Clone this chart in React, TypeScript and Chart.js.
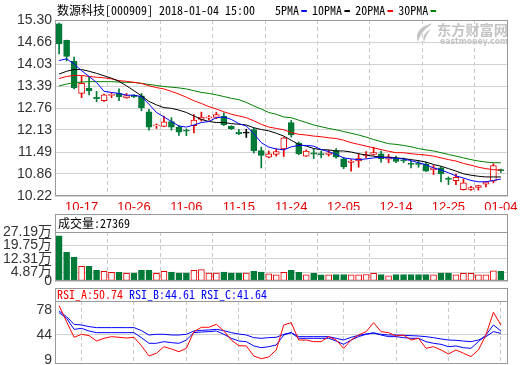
import React, { useEffect, useRef } from 'react';
import { Chart, registerables } from 'chart.js';

Chart.register(...registerables);

// ---------- data ----------
const dates = [
  '10-12','10-13','10-16','10-17','10-18','10-19','10-20','10-23','10-24','10-25',
  '10-26','10-27','10-30','10-31','11-01','11-02','11-03','11-06','11-07','11-08',
  '11-09','11-10','11-13','11-14','11-15','11-16','11-17','11-20','11-21','11-22',
  '11-23','11-24','11-27','11-28','11-29','11-30','12-01','12-04','12-05','12-06',
  '12-07','12-08','12-11','12-12','12-13','12-14','12-15','12-18','12-19','12-20',
  '12-21','12-22','12-25','12-26','12-27','12-28','12-29','01-02','01-03','01-04',
];
const xTickLabels = ['10-17','10-26','11-06','11-15','11-24','12-05','12-14','12-25','01-04'];

const open = [
  15.19,14.71,14.11,13.18,13.33,13.05,12.97,13.12,13.18,13.05,
  13.11,13.11,12.65,12.24,12.23,12.37,12.20,12.11,12.25,12.43,
  12.47,12.49,12.52,12.23,12.04,12.03,12.14,11.53,11.34,11.42,
  11.58,12.34,11.75,11.37,11.45,11.43,11.42,11.53,11.29,11.19,
  11.23,11.38,11.42,11.44,11.28,11.32,11.25,11.15,11.15,11.15,
  10.98,11.03,10.72,10.66,10.40,10.41,10.47,10.56,10.65,10.97,
];
const high = [
  15.21,14.72,14.23,13.67,13.67,13.24,13.16,13.21,13.31,13.18,
  13.14,13.18,12.72,12.30,12.53,12.48,12.26,12.16,12.57,12.64,
  12.54,12.64,12.62,12.25,12.14,12.15,12.19,11.63,11.52,11.58,
  11.91,12.40,11.78,11.55,11.58,11.52,11.54,11.59,11.34,11.27,
  11.44,11.50,11.63,11.52,11.42,11.37,11.32,11.22,11.25,11.20,
  11.10,11.07,10.77,10.85,10.71,10.50,10.53,10.64,11.15,11.00,
];
const low = [
  14.32,14.12,13.31,13.06,13.14,12.94,12.95,13.06,12.97,13.04,
  13.06,12.68,12.12,12.17,12.22,12.12,11.97,11.96,12.04,12.38,
  12.41,12.45,12.25,12.14,11.99,11.91,11.46,11.03,11.32,11.37,
  11.36,11.92,11.41,11.36,11.30,11.32,11.37,11.31,11.01,10.94,
  11.05,11.32,11.40,11.20,11.18,11.18,11.18,11.03,11.05,10.93,
  10.84,10.63,10.55,10.55,10.39,10.38,10.39,10.48,10.60,10.90,
];
const close = [
  14.61,14.25,13.34,13.47,13.26,13.03,13.14,13.14,13.09,13.12,
  13.09,12.77,12.21,12.26,12.36,12.21,12.06,12.09,12.41,12.50,
  12.49,12.57,12.28,12.16,12.02,12.03,11.53,11.39,11.44,11.50,
  11.90,11.98,11.44,11.52,11.43,11.41,11.46,11.34,11.06,11.21,
  11.30,11.40,11.47,11.30,11.35,11.22,11.23,11.13,11.13,10.94,
  11.03,10.86,10.70,10.76,10.60,10.46,10.52,10.63,11.10,10.95,
];

const ma5 = [
  14.13,14.18,14.03,13.84,13.67,13.50,13.24,13.21,13.18,13.13,
  13.13,13.09,12.87,12.63,12.50,12.37,12.24,12.21,12.27,12.34,
  12.37,12.48,12.50,12.43,12.31,12.24,12.02,11.76,11.63,11.58,
  11.55,11.64,11.68,11.68,11.66,11.56,11.50,11.42,11.32,11.29,
  11.27,11.29,11.32,11.34,11.32,11.31,11.29,11.24,11.18,11.12,
  11.03,10.97,10.89,10.80,10.74,10.67,10.63,10.63,10.67,10.71,
];
const ma10 = [
  13.74,13.82,13.87,13.87,13.82,13.76,13.69,13.62,13.53,13.40,
  13.26,13.11,12.95,12.85,12.77,12.75,12.70,12.63,12.53,12.43,
  12.37,12.34,12.34,12.31,12.29,12.27,12.19,12.14,12.10,12.03,
  11.95,11.83,11.71,11.66,11.59,11.56,11.55,11.52,11.52,11.49,
  11.44,11.40,11.37,11.34,11.34,11.32,11.30,11.27,11.24,11.20,
  11.13,11.08,11.01,10.94,10.86,10.82,10.79,10.77,10.77,10.77,
];
const ma20 = [
  13.61,13.67,13.70,13.70,13.67,13.65,13.63,13.60,13.55,13.53,
  13.50,13.47,13.40,13.35,13.31,13.24,13.16,13.07,12.97,12.89,
  12.80,12.73,12.65,12.58,12.53,12.48,12.39,12.29,12.21,12.17,
  12.13,12.05,12.00,11.98,11.95,11.93,11.90,11.88,11.83,11.76,
  11.71,11.66,11.61,11.56,11.51,11.47,11.47,11.44,11.42,11.40,
  11.37,11.32,11.27,11.23,11.16,11.11,11.05,11.01,10.98,10.97,
];
const ma30 = [
  13.40,13.45,13.49,13.51,13.52,13.52,13.52,13.52,13.51,13.50,
  13.50,13.47,13.44,13.41,13.38,13.36,13.34,13.31,13.26,13.21,
  13.18,13.14,13.09,13.04,13.00,12.92,12.82,12.73,12.63,12.58,
  12.50,12.48,12.41,12.34,12.27,12.22,12.17,12.13,12.08,12.03,
  11.98,11.92,11.85,11.79,11.73,11.71,11.68,11.64,11.59,11.55,
  11.52,11.47,11.42,11.37,11.32,11.27,11.23,11.20,11.18,11.18,
];

// volume in 万
const volume = [
  25.0,15.9,13.3,8.2,8.2,5.9,5.3,4.75,4.75,4.2,
  4.4,5.9,5.9,4.2,5.3,5.0,4.4,4.4,5.9,6.3,
  4.4,4.4,5.0,4.4,4.4,4.4,5.3,5.0,4.0,3.4,
  4.75,5.9,4.75,3.4,4.2,3.4,3.4,3.6,3.6,3.4,
  3.4,3.6,4.2,3.6,2.9,3.6,3.6,3.6,3.6,3.6,
  3.4,4.4,4.4,3.4,4.2,4.2,3.4,3.4,5.7,5.3,
];

const rsiA = [
  84.5,62.1,40.3,44.5,42.6,35.1,38.9,41.2,40.3,39.3,
  40.3,28.6,14.2,18.0,27.2,24.0,20.2,24.9,48.2,54.3,
  54.3,58.4,49.1,36.5,28.6,28.2,14.2,10.4,12.8,22.6,
  57.5,60.7,36.5,36.5,34.2,34.2,41.2,36.5,24.9,36.5,
  43.5,48.2,60.7,48.2,46.8,42.1,43.5,36.5,38.9,24.9,
  27.2,22.6,17.0,22.6,18.0,13.3,22.6,43.5,75.2,57.5,
];
const rsiB = [
  74.7,66.8,51.4,52.8,49.1,46.8,46.8,46.8,46.8,46.8,
  46.8,39.8,31.9,31.9,34.2,32.8,31.9,36.5,46.8,47.7,
  48.2,49.1,44.5,38.9,35.1,34.2,28.2,25.8,27.2,29.6,
  43.5,46.8,38.9,38.9,38.9,38.9,38.9,35.1,30.5,36.5,
  41.2,44.5,46.8,43.5,41.2,41.2,39.8,38.9,38.9,34.2,
  31.9,30.5,27.2,28.2,25.8,24.9,34.2,43.5,57.5,49.1,
];
const rsiC = [
  77.0,69.1,58.4,57.5,55.2,53.8,53.8,53.8,53.8,53.8,
  53.8,49.6,43.5,44.5,44.5,43.5,43.5,44.5,49.1,50.0,
  50.5,51.4,49.6,46.8,44.9,43.5,39.8,38.9,39.8,40.3,
  44.5,46.8,41.2,41.2,41.2,41.2,41.2,38.9,36.5,40.3,
  43.0,44.9,45.8,44.5,43.5,43.5,43.0,42.6,42.1,41.2,
  39.8,38.0,36.5,36.1,35.1,34.2,36.5,41.2,48.2,45.8,
];

const priceTicks = [10.22, 10.86, 11.49, 12.13, 12.76, 13.39, 14.03, 14.66, 15.30];
const volTicks = [0, 4.87, 12.31, 19.75, 27.19];
const rsiTicks = [9, 44, 78];

const titleText = '数源科技[000909] 2018-01-04 15:00';
const legendNames = ['5PMA', '10PMA', '20PMA', '30PMA'];
const volHeader = '成交量:27369';
const rsiNames = ['RSI_A:50.74', 'RSI_B:44.61', 'RSI_C:41.64'];

// ---------- styles ----------
const UP = '#e60000';
const DOWN = '#007a37';
const FLAT = '#000000';
const MA_COLORS = ['#0000ff', '#000000', '#ff0000', '#008000'];
const RSI_COLORS = ['#ff0000', '#0000ff', '#0000ff'];
const FRAME = '#999999';
const GRID = '#d2d2d2';
const VGRID = '#c8c8c8';
const TICK_FONT = '"Liberation Sans Narrow", "Liberation Sans", "Noto Sans CJK SC", sans-serif';
const MONO = '12px "Noto Sans Mono CJK SC", "Noto Sans CJK SC", "DejaVu Sans Mono", monospace';

const candleColor = (i: number) => (close[i] > open[i] ? UP : close[i] < open[i] ? DOWN : FLAT);
const volColor = (i: number) => (close[i] >= open[i] ? UP : DOWN);

function simWidth(text: string, size = 12) {
  let t = 0;
  for (const ch of text) t += ch.charCodeAt(0) > 255 ? size : size / 2;
  return t;
}
function fitText(ctx: CanvasRenderingContext2D, text: string, x: number, y: number, font: string, color: string, targetW?: number) {
  ctx.save();
  ctx.font = font;
  ctx.fillStyle = color;
  ctx.textBaseline = 'middle';
  ctx.textAlign = 'left';
  const w = ctx.measureText(text).width;
  const s = targetW && w > 0 ? targetW / w : 1;
  ctx.translate(x, y);
  ctx.scale(s, 1);
  ctx.fillText(text, 0, 0);
  ctx.restore();
}

const xScale = (showLabels: boolean) => ({
  type: 'linear' as const,
  min: -0.55,
  max: 59.95,
  bounds: 'data' as const,
  offset: false,
  afterBuildTicks: (s: any) => {
    s.ticks = xTickLabels.map((l) => ({ value: dates.indexOf(l) }));
  },
  ticks: {
    display: showLabels,
    autoSkip: false,
    maxRotation: 0,
    padding: 4,
    color: UP,
    font: { family: TICK_FONT, size: 13 },
    callback: (v: any) => dates[v as number],
  },
  grid: { color: VGRID, drawTicks: false, lineWidth: 1 },
  border: { display: false, dash: [4, 3] },
  afterFit: (s: any) => {
    s.height = showLabels ? 14 : 0;
    s.paddingLeft = 0;
    s.paddingRight = 0;
  },
});

const yBase = (min: number, max: number, ticks: number[], cb: (v: number) => string, gridColor: any) => ({
  min,
  max,
  afterBuildTicks: (s: any) => {
    s.ticks = ticks.map((v) => ({ value: v }));
  },
  ticks: {
    autoSkip: false,
    padding: 3,
    color: '#333333',
    font: { family: TICK_FONT, size: 14 },
    callback: (v: any) => cb(v as number),
  },
  grid: { color: gridColor, drawTicks: false, lineWidth: 1 },
  border: { display: false },
  afterFit: (s: any) => {
    s.width = 55;
    s.paddingTop = 0;
    s.paddingBottom = 0;
  },
});

const framePlugin = {
  id: 'frame',
  beforeDatasetsDraw(chart: any, _a: any, opts: any) {
    if (!opts.watermark) return;
    const ctx = chart.ctx as CanvasRenderingContext2D;
    const c = 'rgba(190,190,190,0.9)';
    ctx.save();
    ctx.fillStyle = c;
    ctx.beginPath();
    ctx.moveTo(433, 23);
    ctx.quadraticCurveTo(413, 28, 418, 42);
    ctx.quadraticCurveTo(420, 32, 433, 23);
    ctx.fill();
    ctx.beginPath();
    ctx.moveTo(431, 29);
    ctx.quadraticCurveTo(421, 34, 424, 43);
    ctx.quadraticCurveTo(425, 36, 431, 29);
    ctx.fill();
    ctx.restore();
    fitText(ctx, '东方财富网', 437, 29.5, 'bold 14px "Noto Sans CJK SC", sans-serif', c, 71);
    fitText(ctx, 'eastmoney.com', 440, 41.5, 'bold 9px "DejaVu Sans", sans-serif', c, 68);
  },
  afterDraw(chart: any, _a: any, opts: any) {
    const ctx = chart.ctx as CanvasRenderingContext2D;
    const a = chart.chartArea;
    const L = Math.round(a.left) + 0.5;
    const R = Math.round(a.right) - 0.5;
    const B = Math.round(a.bottom) - 0.5;
    const T = Math.round(a.top) + 0.5;
    ctx.save();
    ctx.strokeStyle = FRAME;
    ctx.lineWidth = 1;
    const top = opts.headerTop != null ? opts.headerTop + 0.5 : T;
    ctx.strokeRect(L, top, R - L, B - top);
    if (opts.headerTop != null) {
      ctx.beginPath();
      ctx.moveTo(L, T);
      ctx.lineTo(R, T);
      ctx.stroke();
    }
    ctx.restore();
    (opts.texts || []).forEach((t: any) => {
      fitText(ctx, t.text, t.x, t.y, MONO, t.color, simWidth(t.text));
    });
    if (opts.legend) {
      let x = 275;
      legendNames.forEach((n, i) => {
        const w = simWidth(n);
        fitText(ctx, n, x, 10, MONO, '#000', w);
        x += w + 2.3;
        ctx.fillStyle = MA_COLORS[i];
        ctx.fillRect(x, 10, 5.5, 2);
        x += 5.5 + 5.3;
      });
    }
  },
};

function mainConfig(): any {
  const idx = dates.map((_, i) => i);
  const maSets = [ma5, ma10, ma20, ma30].map((arr, k) => ({
    type: 'line',
    label: legendNames[k],
    data: idx.map((i) => ({ x: i, y: arr[i] })),
    borderColor: MA_COLORS[k],
    borderWidth: 1,
    pointRadius: 0,
    tension: 0,
    order: 0,
  }));
  return {
    type: 'bar',
    data: {
      datasets: [
        ...maSets,
        {
          type: 'bar',
          label: 'body',
          data: idx.map((i) => ({ x: i, y: [open[i], close[i]] })),
          backgroundColor: idx.map((i) => (close[i] > open[i] ? '#ffffff' : candleColor(i))),
          borderColor: idx.map((i) => candleColor(i)),
          borderWidth: 1,
          borderSkipped: false,
          barThickness: 6,
          minBarLength: 1.2,
          grouped: false,
          order: 1,
        },
        {
          type: 'bar',
          label: 'wick',
          data: idx.map((i) => ({ x: i, y: [low[i], high[i]] })),
          backgroundColor: idx.map((i) => candleColor(i)),
          borderWidth: 0,
          barThickness: 1,
          grouped: false,
          order: 2,
        },
      ],
    },
    options: {
      responsive: false,
      animation: false,
      events: [],
      layout: { padding: { left: 0, right: 12, top: 20, bottom: 0 } },
      plugins: {
        legend: { display: false },
        tooltip: { enabled: false },
        frame: {
          watermark: true,
          legend: true,
          texts: [{ text: titleText, x: 57, y: 10, color: '#000' }],
        },
      },
      scales: {
        x: xScale(true),
        y: yBase(10.22, 15.3, priceTicks, (v) => v.toFixed(2), GRID),
      },
    },
    plugins: [framePlugin],
  };
}

function volConfig(): any {
  const idx = dates.map((_, i) => i);
  return {
    type: 'bar',
    data: {
      datasets: [
        {
          label: '成交量',
          data: idx.map((i) => ({ x: i, y: volume[i] })),
          backgroundColor: idx.map((i) => (volColor(i) === UP ? '#ffffff' : DOWN)),
          borderColor: idx.map((i) => volColor(i)),
          borderWidth: 1,
          borderSkipped: false,
          barThickness: 6,
        },
      ],
    },
    options: {
      responsive: false,
      animation: false,
      events: [],
      layout: { padding: { left: 0, right: 12, top: 22, bottom: 4 } },
      plugins: {
        legend: { display: false },
        tooltip: { enabled: false },
        frame: {
          headerTop: 4,
          texts: [{ text: volHeader, x: 58, y: 13.3, color: '#000' }],
        },
      },
      scales: {
        x: xScale(false),
        y: yBase(0, 27.19, volTicks, (v) => (v === 0 ? '0' : v.toFixed(2) + '万'), GRID),
      },
    },
    plugins: [framePlugin],
  };
}

function rsiConfig(): any {
  const idx = dates.map((_, i) => i);
  const sets = [rsiA, rsiB, rsiC].map((arr, k) => ({
    type: 'line',
    label: rsiNames[k],
    data: idx.map((i) => ({ x: i, y: arr[i] })),
    borderColor: RSI_COLORS[k],
    borderWidth: 1,
    pointRadius: 0,
    tension: 0,
  }));
  return {
    type: 'line',
    data: { datasets: sets },
    options: {
      responsive: false,
      animation: false,
      events: [],
      layout: { padding: { left: 0, right: 12, top: 16, bottom: 1 } },
      plugins: {
        legend: { display: false },
        tooltip: { enabled: false },
        frame: {
          headerTop: 3,
          texts: [
            { text: rsiNames[0], x: 57, y: 9, color: RSI_COLORS[0] },
            { text: rsiNames[1], x: 129, y: 9, color: RSI_COLORS[1] },
            { text: rsiNames[2], x: 201, y: 9, color: RSI_COLORS[2] },
          ],
        },
      },
      scales: {
        x: xScale(false),
        y: yBase(3, 91, rsiTicks, (v) => String(v), (c: any) =>
          c.tick && c.tick.value === 44 ? GRID : 'rgba(0,0,0,0)'
        ),
      },
    },
    plugins: [framePlugin],
  };
}

export default function App() {
  const r1 = useRef<HTMLCanvasElement>(null);
  const r2 = useRef<HTMLCanvasElement>(null);
  const r3 = useRef<HTMLCanvasElement>(null);
  useEffect(() => {
    const c1 = new Chart(r1.current as HTMLCanvasElement, mainConfig());
    const c2 = new Chart(r2.current as HTMLCanvasElement, volConfig());
    const c3 = new Chart(r3.current as HTMLCanvasElement, rsiConfig());
    return () => {
      c1.destroy();
      c2.destroy();
      c3.destroy();
    };
  }, []);
  const cs = (top: number): React.CSSProperties => ({ position: 'absolute', left: 0, top });
  return (
    <div style={{ position: 'absolute', left: 0, top: 0, width: 520, height: 365, background: '#fff' }}>
      <canvas ref={r1} width={520} height={210} style={cs(0)} />
      <canvas ref={r2} width={520} height={75} style={cs(210)} />
      <canvas ref={r3} width={520} height={80} style={cs(285)} />
    </div>
  );
}
